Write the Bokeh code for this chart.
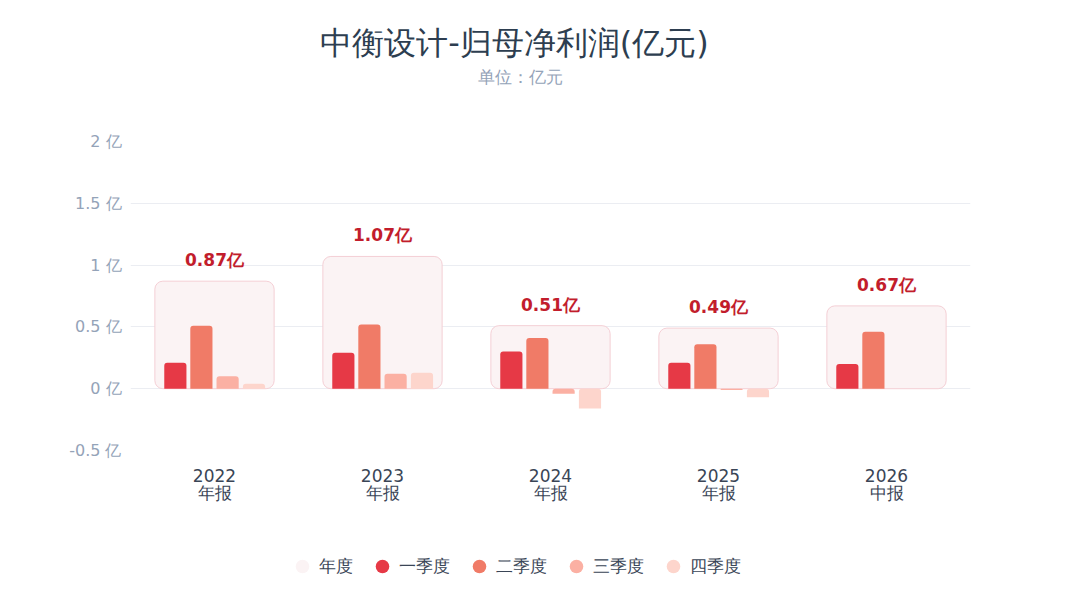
import numpy as np
from bokeh.plotting import figure
from bokeh.layouts import column
from bokeh.models import (ColumnDataSource, FixedTicker, Legend, LegendItem, Range1d)
from bokeh.core.properties import value
from bokeh.embed import file_html
from bokeh.resources import INLINE

# ---- data ----
periods = ["2022", "2023", "2024", "2025", "2026"]
report_types = ["年报", "年报", "年报", "年报", "中报"]
annual = [0.87, 1.07, 0.51, 0.49, 0.67]
q1 = [0.21, 0.29, 0.30, 0.21, 0.20]
q2 = [0.51, 0.52, 0.41, 0.36, 0.46]
q3 = [0.10, 0.12, -0.04, -0.01, float("nan")]
q4 = [0.04, 0.13, -0.16, -0.07, float("nan")]
series_names = ["年度", "一季度", "二季度", "三季度", "四季度"]
y_ticks = [-0.5, 0, 0.5, 1, 1.5, 2]
title_text = "中衡设计-归母净利润(亿元)"
subtitle_text = "单位：亿元"

# ---- style ----
FONT = "DejaVu Sans"
C_ANNUAL = "#fbf3f4"
C_ANNUAL_LINE = "#f4cfd5"
C_Q = ["#e63946", "#f07b67", "#fbb0a3", "#fdd5cc"]
C_LABEL = "#c21d2c"
C_TITLE = "#2d3e50"
C_SUB = "#94a3b8"
C_AXIS = "#3a4556"
W = 1080
LEFT, RIGHT = 130, 110   # frame borders shared by every figure in the column


def blank(height):
    # frame is aligned with the main chart's frame by the column layout,
    # so map x to page pixels across that frame
    f = figure(width=W, height=height, output_backend="svg", toolbar_location=None,
               x_range=Range1d(LEFT, W - RIGHT), y_range=Range1d(height, 0),
               min_border=0, min_border_left=LEFT, min_border_right=RIGHT,
               min_border_top=0, min_border_bottom=0,
               x_axis_type=None, y_axis_type=None)
    f.outline_line_color = None
    f.background_fill_color = "white"
    f.border_fill_color = "white"
    f.grid.visible = False
    return f


# ---- header ----
head = blank(100)
head.text(x=[514], y=[42], text=[title_text], text_align="center", text_baseline="middle",
          text_font=value(FONT), text_font_size="32px",
          text_color=C_TITLE)
head.text(x=[520], y=[76], text=[subtitle_text], text_align="center", text_baseline="middle",
          text_font=value(FONT), text_font_size="17px", text_color=C_SUB)

# ---- main chart ----
x = np.arange(len(periods), dtype=float)
p = figure(width=W, height=420, output_backend="svg", toolbar_location=None,
           x_range=(-0.5, len(periods) - 0.5), y_range=(-0.5, 2.0),
           min_border_left=LEFT, min_border_right=RIGHT,
           min_border_top=41, min_border_bottom=70)
p.background_fill_color = "white"
p.border_fill_color = "white"
p.outline_line_color = None

ann_src = ColumnDataSource(dict(
    left=x - 0.355, right=x + 0.355, top=annual, bottom=[0] * len(annual),
    x=x, y=annual, text=[f"{v:.2f}亿" for v in annual]))
p.quad(left="left", right="right", top="top", bottom="bottom", source=ann_src,
       fill_color=C_ANNUAL, line_color=C_ANNUAL_LINE, line_width=1, border_radius=8)

offsets = [-0.233, -0.078, 0.078, 0.235]
for vals, off, col in zip([q1, q2, q3, q4], offsets, C_Q):
    src = ColumnDataSource(dict(x=x + off, top=vals))
    p.vbar(x="x", top="top", bottom=0, width=0.132, source=src,
           fill_color=col, line_color=None, border_radius=(3, 3, 0, 0))

p.text(x="x", y="y", text="text", source=ann_src, y_offset=-11,
       text_align="center", text_baseline="bottom",
       text_font=value(FONT), text_font_size="17px", text_font_style="bold",
       text_color=C_LABEL)

p.yaxis.ticker = FixedTicker(ticks=y_ticks)
p.yaxis.major_label_overrides = {float(t): (f"{t:g} 亿") for t in y_ticks}
p.yaxis.major_label_text_font = FONT
p.yaxis.major_label_text_font_size = "16px"
p.yaxis.major_label_text_color = C_SUB
p.yaxis.axis_line_color = None
p.yaxis.major_tick_line_color = None
p.yaxis.minor_tick_line_color = None
p.yaxis.major_label_standoff = 3

p.xaxis.ticker = FixedTicker(ticks=list(x))
p.xaxis.major_label_overrides = {float(i): f"{a}\n{b}" for i, (a, b) in enumerate(zip(periods, report_types))}
p.xaxis.major_label_text_font = FONT
p.xaxis.major_label_text_font_size = "17px"
p.xaxis.major_label_text_line_height = 0.88
p.xaxis.major_label_text_color = C_AXIS
p.xaxis.axis_line_color = None
p.xaxis.major_tick_line_color = None
p.xaxis.minor_tick_line_color = None
p.xaxis.major_label_standoff = 9

p.xgrid.grid_line_color = None
p.ygrid.grid_line_color = "#ebedf2"
p.ygrid.grid_line_width = 1

# ---- legend ----
foot = blank(80)
items = []
for name, col in zip(series_names, [C_ANNUAL] + C_Q):
    r = foot.scatter(x=[np.nan], y=[np.nan], marker="circle", size=14,
                     fill_color=col, line_color=None)
    items.append(LegendItem(label=name, renderers=[r]))
legend = Legend(items=items, orientation="horizontal", location=(155, 17),
                glyph_width=34, glyph_height=34, label_standoff=0, spacing=12,
                padding=0, margin=0, border_line_color=None, background_fill_alpha=0,
                label_text_font=FONT, label_text_font_size="17px", label_text_color=C_AXIS)
foot.add_layout(legend, "center")

layout = column(head, p, foot, spacing=0)
open("out.html", "w").write(file_html(layout, INLINE))
